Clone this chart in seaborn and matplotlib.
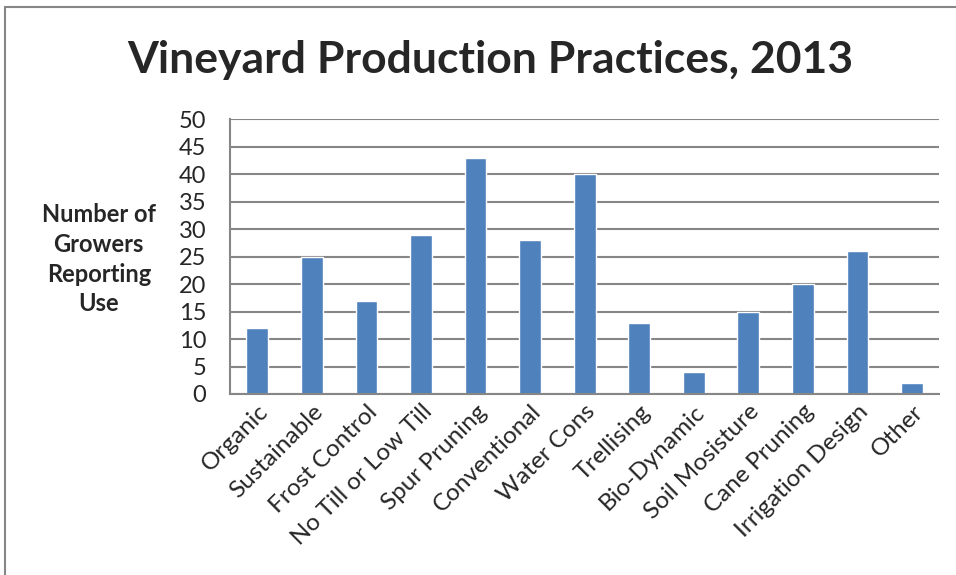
import matplotlib
matplotlib.use("Agg")
import matplotlib.pyplot as plt
import seaborn as sns
import pandas as pd

practices = ['Organic', 'Sustainable', 'Frost Control', 'No Till or Low Till', 'Spur Pruning',
             'Conventional', 'Water Cons', 'Trellising', 'Bio-Dynamic', 'Soil Mosisture',
             'Cane Pruning', 'Irrigation Design', 'Other']
growers = [12, 25, 17, 29, 43, 28, 40, 13, 4, 15, 20, 26, 2]
y_ticks = [0, 5, 10, 15, 20, 25, 30, 35, 40, 45, 50]

df = pd.DataFrame({'Practice': practices, 'Growers': growers})

sns.set_style('white')
plt.rcParams['font.family'] = ['Lato', 'DejaVu Sans']

fig = plt.figure(figsize=(9.56, 5.75), dpi=100)
ax = fig.add_axes([0.2406, 0.3148, 0.742, 0.478])

# gridlines behind bars
ax.set_axisbelow(True)
ax.yaxis.grid(True, color='#868686', linewidth=1.5)

sns.barplot(data=df, x='Practice', y='Growers', color='#4F81BD', saturation=1,
            width=0.4, ax=ax)

ax.set_ylim(0, 50)
ax.set_yticks(y_ticks)
ax.set_xlim(-0.5, len(practices) - 0.5)
ax.tick_params(axis='y', labelsize=17, length=0, pad=17)
ax.tick_params(axis='x', labelsize=17.5, length=0, pad=5)
plt.setp(ax.get_xticklabels(), rotation=45, ha='right', rotation_mode='anchor')

for side in ['top', 'right']:
    ax.spines[side].set_visible(False)
for side in ['left', 'bottom']:
    ax.spines[side].set_color('#868686')
    ax.spines[side].set_linewidth(1.5)

ax.set_xlabel('')
ax.set_ylabel('Number of\nGrowers\nReporting\nUse', rotation=0, fontsize=17,
              fontweight='bold', labelpad=0, linespacing=1.35)
ax.yaxis.set_label_coords(-0.185, 0.49)
ax.yaxis.label.set_va('center')
ax.yaxis.label.set_ha('center')

fig.text(0.513, 0.895, 'Vineyard Production Practices, 2013', ha='center', va='center',
         fontsize=32, fontweight='bold')

# chart border (left and top visible)
fig.add_artist(plt.Line2D([0.005, 0.005], [0, 0.988], color='#868686', lw=1.5))
fig.add_artist(plt.Line2D([0.005, 1.0], [0.988, 0.988], color='#868686', lw=1.5))

fig.savefig('out.png', dpi=100)
